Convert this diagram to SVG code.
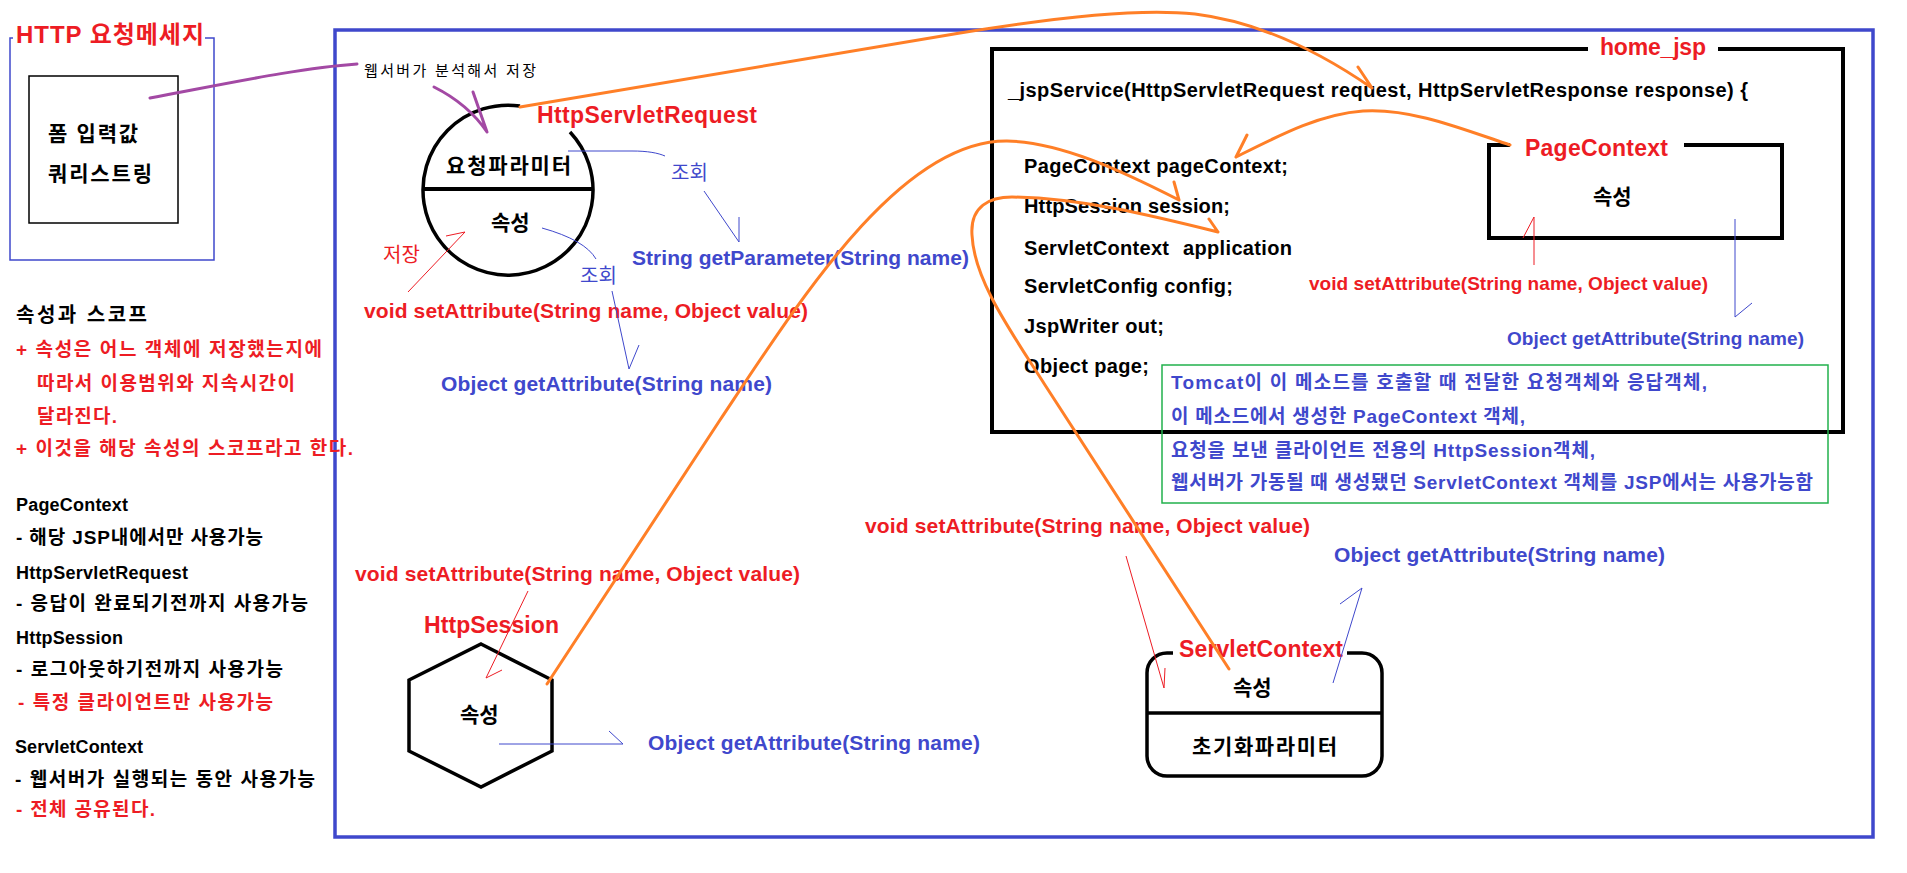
<svg xmlns="http://www.w3.org/2000/svg" width="1907" height="873" viewBox="0 0 1907 873">
<style>
text { font-family: "Liberation Sans", "Noto Sans CJK KR", sans-serif; }
.b { font-weight: bold; }
.red { fill: #ED1C24; }
.blue { fill: #3F48CC; }
.blk { fill: #000000; }
.lbl { font-size: 23px; font-weight: bold; fill: #ED1C24; }
.code { font-size: 20px; font-weight: bold; fill: #000000; }
.m21 { font-size: 21px; font-weight: bold; }
.m19 { font-size: 19px; font-weight: bold; }
.note { font-size: 18px; font-weight: bold; }
.nk { font-size: 19px; }
.kor { font-size: 21px; font-weight: bold; fill: #000000; }
.hand { font-size: 20px; font-weight: normal; }
.green { font-size: 19px; font-weight: bold; fill: #3F48CC; }
.shape { fill: none; stroke: #000000; stroke-width: 3.5; }
.orange { fill: none; stroke: #FF7F27; stroke-width: 3; stroke-linecap: round; stroke-linejoin: round; }
.purple { fill: none; stroke: #A349A4; stroke-width: 3; stroke-linecap: round; }
.thinb { fill: none; stroke: #3F48CC; stroke-width: 1; }
.thinr { fill: none; stroke: #ED1C24; stroke-width: 1; }
</style>

<!-- main container -->
<g id="container">
  <rect x="335" y="30" width="1538" height="807" fill="none" stroke="#3F48CC" stroke-width="3.5"/>
</g>

<!-- HTTP request message -->
<g id="http-message">
  <path d="M205,38 L214,38 L214,260 L10,260 L10,38 L13,38" fill="none" stroke="#3F48CC" stroke-width="1.5"/>
  <text x="16" y="43" class="b red" font-size="24" textLength="188">HTTP 요청메세지</text>
  <rect x="29" y="76" width="149" height="147" fill="none" stroke="#000" stroke-width="1.5"/>
  <text x="48" y="141" class="kor" textLength="90">폼 입력값</text>
  <text x="48" y="181" class="kor" textLength="104">쿼리스트링</text>
</g>

<!-- scope notes -->
<g id="scope-notes" class="note">
  <text x="16" y="322" class="blk" font-size="20" textLength="131">속성과 스코프</text>
  <text x="16" y="356" class="red nk" textLength="306">+ 속성은 어느 객체에 저장했는지에</text>
  <text x="37" y="390" class="red nk" textLength="258">따라서 이용범위와 지속시간이</text>
  <text x="37" y="423" class="red nk" textLength="80">달라진다.</text>
  <text x="16" y="455" class="red nk" textLength="337">+ 이것을 해당 속성의 스코프라고 한다.</text>
  <text x="16" y="511" class="blk" textLength="112">PageContext</text>
  <text x="16" y="544" class="blk nk" textLength="247">- 해당 JSP내에서만 사용가능</text>
  <text x="16" y="579" class="blk" textLength="172">HttpServletRequest</text>
  <text x="16" y="610" class="blk nk" textLength="292">- 응답이 완료되기전까지 사용가능</text>
  <text x="16" y="644" class="blk" textLength="107">HttpSession</text>
  <text x="16" y="676" class="blk nk" textLength="267">- 로그아웃하기전까지 사용가능</text>
  <text x="18" y="709" class="red nk" textLength="255">- 특정 클라이언트만 사용가능</text>
  <text x="15" y="753" class="blk" textLength="128">ServletContext</text>
  <text x="15" y="786" class="blk nk" textLength="300">- 웹서버가 실행되는 동안 사용가능</text>
  <text x="16" y="816" class="red nk" textLength="139">- 전체 공유된다.</text>
</g>

<!-- HttpServletRequest -->
<g id="http-servlet-request">
  <path d="M570,132 A85,85 0 1 1 520,106" class="shape"/>
  <line x1="423" y1="189" x2="594" y2="189" stroke="#000" stroke-width="4"/>
  <text x="537" y="123" class="lbl" textLength="220">HttpServletRequest</text>
  <text x="446" y="173" class="kor" textLength="125">요청파라미터</text>
  <text x="491" y="230" class="kor">속성</text>
</g>

<!-- HttpSession -->
<g id="http-session">
  <polygon points="481,644 552,680 552,751 481,787 409,751 409,680" class="shape"/>
  <text x="424" y="633" class="lbl" textLength="135">HttpSession</text>
  <text x="460" y="722" class="kor">속성</text>
</g>

<!-- ServletContext -->
<g id="servlet-context">
  <path d="M1173,653 L1167,653 A20,20 0 0 0 1147,673 L1147,756 A20,20 0 0 0 1167,776 L1362,776 A20,20 0 0 0 1382,756 L1382,673 A20,20 0 0 0 1362,653 L1347,653" class="shape"/>
  <line x1="1147" y1="713" x2="1382" y2="713" stroke="#000" stroke-width="3.5"/>
  <text x="1179" y="657" class="lbl" textLength="164">ServletContext</text>
  <text x="1233" y="695" class="kor">속성</text>
  <text x="1192" y="754" class="kor" textLength="145">초기화파라미터</text>
</g>

<!-- home_jsp -->
<g id="home-jsp">
  <path d="M1588,49 L992,49 L992,432 L1843,432 L1843,49 L1718,49" fill="none" stroke="#000" stroke-width="4"/>
  <text x="1600" y="55" class="lbl" textLength="106">home_jsp</text>
  <text x="1008" y="97" class="code" textLength="740">_jspService(HttpServletRequest request, HttpServletResponse response) {</text>
  <text x="1024" y="173" class="code" textLength="264">PageContext pageContext;</text>
  <text x="1024" y="213" class="code" textLength="206">HttpSession session;</text>
  <text x="1024" y="255" class="code" textLength="145">ServletContext</text>
  <text x="1183" y="255" class="code" textLength="109">application</text>
  <text x="1024" y="293" class="code" textLength="209">ServletConfig config;</text>
  <text x="1024" y="333" class="code" textLength="140">JspWriter out;</text>
  <text x="1024" y="373" class="code" textLength="125">Object page;</text>
</g>

<!-- PageContext -->
<g id="page-context">
  <path d="M1510,145 L1489,145 L1489,238 L1782,238 L1782,145 L1684,145" fill="none" stroke="#000" stroke-width="4"/>
  <text x="1525" y="156" class="lbl" textLength="143">PageContext</text>
  <text x="1593" y="204" class="kor">속성</text>
</g>

<!-- note box -->
<g id="note-box">
  <rect x="1162" y="365" width="666" height="138" fill="none" stroke="#22B14C" stroke-width="1.5"/>
  <text x="1171" y="389" class="green" textLength="536">Tomcat이 이 메소드를 호출할 때 전달한 요청객체와 응답객체,</text>
  <text x="1171" y="423" class="green" textLength="354">이 메소드에서 생성한 PageContext 객체,</text>
  <text x="1171" y="457" class="green" textLength="424">요청을 보낸 클라이언트 전용의 HttpSession객체,</text>
  <text x="1171" y="489" class="green" textLength="642">웹서버가 가동될 때 생성됐던 ServletContext 객체를 JSP에서는 사용가능함</text>
</g>

<!-- connectors -->
<g id="connectors">
  <!-- web server parses and stores -->
  <path d="M150,98 C230,83 300,68 357,64" class="purple"/>
  <text x="364" y="76" font-size="15" class="blk" textLength="172">웹서버가 분석해서 저장</text>
  <path d="M434,87 Q468,104 487,132 M473,92 L487,132" class="purple"/>

  <!-- request parameter lookup -->
  <path d="M568,151 L632,151 C648,151 658,153 665,156" class="thinb"/>
  <text x="671" y="180" class="hand blue">조회</text>
  <path d="M704,191 L739,242 M739,217 L739,242" class="thinb"/>
  <text x="632" y="265" class="m21 blue" textLength="337">String getParameter(String name)</text>

  <!-- request attribute store -->
  <text x="383" y="262" class="hand red">저장</text>
  <path d="M408,292 L465,232 M446,236 L465,232" class="thinr"/>
  <text x="364" y="318" class="m21 red" textLength="444">void setAttribute(String name, Object value)</text>

  <!-- request attribute lookup -->
  <path d="M542,228 Q585,240 596,259" class="thinb"/>
  <text x="580" y="283" class="hand blue">조회</text>
  <path d="M612,291 L629,369 M639,345 L629,369" class="thinb"/>
  <text x="441" y="391" class="m21 blue" textLength="331">Object getAttribute(String name)</text>

  <!-- session attribute -->
  <text x="355" y="581" class="m21 red" textLength="445">void setAttribute(String name, Object value)</text>
  <path d="M528,591 L486,678 M502,670 L486,678" class="thinr"/>
  <path d="M499,744 L623,744 M609,731 L623,744" class="thinb"/>
  <text x="648" y="750" class="m21 blue" textLength="332">Object getAttribute(String name)</text>

  <!-- page context attribute -->
  <path d="M1534,265 L1534,217 M1523,238 L1534,217" class="thinr"/>
  <text x="1309" y="290" class="m19 red" textLength="399">void setAttribute(String name, Object value)</text>
  <path d="M1735,219 L1735,317 M1752,303 L1735,317" class="thinb"/>
  <text x="1507" y="345" class="m19 blue" textLength="297">Object getAttribute(String name)</text>

  <!-- servlet context attribute -->
  <text x="865" y="533" class="m21 red" textLength="445">void setAttribute(String name, Object value)</text>
  <path d="M1126,556 L1164,688 M1165,668 L1164,688" class="thinr"/>
  <text x="1334" y="562" class="m21 blue" textLength="331">Object getAttribute(String name)</text>
  <path d="M1333,683 L1362,588 M1340,604 L1362,588" class="thinb"/>

  <!-- orange: objects passed to _jspService -->
  <path d="M520,107 L960,33 C1060,17 1140,8 1195,14 C1260,22 1320,52 1372,88 M1358,67 L1372,88" class="orange"/>
  <path d="M1510,145 C1460,128 1410,108 1363,111 C1320,114 1280,135 1236,157 M1247,135 L1236,157" class="orange"/>
  <path d="M547,684 L720,420 C800,300 900,140 1007,141 C1060,142 1120,170 1179,200 M1174,182 L1179,200" class="orange"/>
  <path d="M1229,669 L1045,385 C1010,330 974,280 972,235 C970,206 990,197 1012,197 C1080,198 1150,215 1218,232 M1209,219 L1218,232" class="orange"/>
</g>
</svg>
